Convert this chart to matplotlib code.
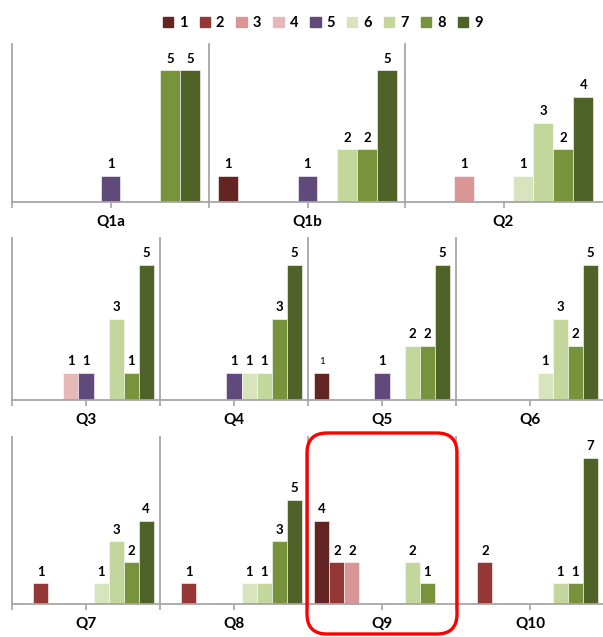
import matplotlib
matplotlib.use("Agg")
import matplotlib.pyplot as plt
from matplotlib.patches import FancyBboxPatch
from matplotlib.transforms import IdentityTransform

plt.rcParams['font.family'] = ['Lato', 'DejaVu Sans']

# Answer categories and their colours
categories = ["1", "2", "3", "4", "5", "6", "7", "8", "9"]
colors = ["#632523", "#953735", "#D99694", "#E6B9B8", "#604A7B",
          "#D7E4BD", "#C3D69B", "#77933C", "#4F6228"]

# Counts per question (one value per category)
questions = ["Q1a", "Q1b", "Q2", "Q3", "Q4", "Q5", "Q6", "Q7", "Q8", "Q9", "Q10"]
counts = [
    [0, 0, 0, 0, 1, 0, 0, 5, 5],
    [1, 0, 0, 0, 1, 0, 2, 2, 5],
    [0, 0, 1, 0, 0, 1, 3, 2, 4],
    [0, 0, 0, 1, 1, 0, 3, 1, 5],
    [0, 0, 0, 0, 1, 1, 1, 3, 5],
    [1, 0, 0, 0, 1, 0, 2, 2, 5],
    [0, 0, 0, 0, 0, 1, 3, 2, 5],
    [0, 1, 0, 0, 0, 1, 3, 2, 4],
    [0, 1, 0, 0, 0, 1, 1, 3, 5],
    [4, 2, 2, 0, 0, 0, 2, 1, 0],
    [0, 2, 0, 0, 0, 0, 1, 1, 7],
]
row_ymax = [6, 6, 8]

W, H = 603, 637
fig = plt.figure(figsize=(W / 100, H / 100), dpi=100)

# pixel layout of the rows: (left edges, panel width, baseline y, top y, panels)
rows = [
    ([12, 209, 405], 197, 202, 44, [0, 1, 2]),
    ([12, 160, 308, 456], 148, 400, 238, [3, 4, 5, 6]),
    ([12, 160, 308, 456], 148, 604, 437, [7, 8, 9, 10]),
]

xmin, xmax = -0.93, 8.93
gray = "#A6A6A6"

for r, (lefts, pw, base, top, idx) in enumerate(rows):
    for left, qi in zip(lefts, idx):
        ax = fig.add_axes([left / W, 1 - base / H, pw / W, (base - top) / H])
        vals = counts[qi]
        for k, v in enumerate(vals):
            if v == 0:
                continue
            ax.bar(k, v, width=1.0, color=colors[k], edgecolor="white", linewidth=0.4)
            if qi == 5 and k == 0:
                # this one label is smaller in the original
                ax.annotate(str(v), (k, v), xytext=(0, 5), textcoords="offset points",
                            ha="center", va="bottom", fontsize=7)
            else:
                ax.annotate(str(v), (k, v), xytext=(0, 4), textcoords="offset points",
                            ha="center", va="bottom", fontsize=9.5, fontweight="bold")
        ax.set_xlim(xmin, xmax)
        ax.set_ylim(0, row_ymax[r])
        ax.set_yticks([])
        ax.set_xticks([4])
        ax.set_xticklabels([questions[qi]], fontsize=11, fontweight="bold")
        ax.set_xticks([xmin], minor=True)
        ax.tick_params(axis="x", which="both", length=4, width=1.2, color=gray, pad=5)
        for s in ["top", "right"]:
            ax.spines[s].set_visible(False)
        for s in ["left", "bottom"]:
            ax.spines[s].set_color(gray)
            ax.spines[s].set_linewidth(1.3)
        ax.patch.set_alpha(0)

# Legend across the top
handles = [plt.Rectangle((0, 0), 1, 1, color=c) for c in colors]
fig.legend(handles, categories, loc="center", bbox_to_anchor=(0.535, 1 - 23 / H),
           ncol=9, frameon=False, handlelength=0.7, handleheight=0.7,
           handletextpad=0.4, columnspacing=0.85,
           prop={"size": 10.5, "weight": "bold"})

# Red highlight around Q9
box = FancyBboxPatch((307 + 20, 3 + 20), 150 - 40, 201 - 40,
                     boxstyle="round,pad=20", linewidth=2.4,
                     edgecolor="#FF0000", facecolor="none",
                     transform=IdentityTransform())
fig.patches.append(box)

fig.savefig("out.png", dpi=100)
